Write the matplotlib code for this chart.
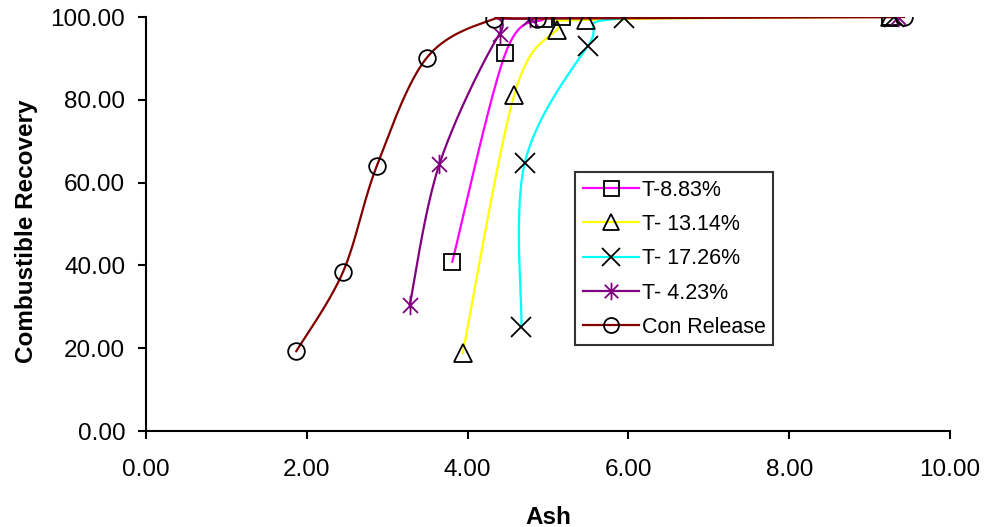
import numpy as np
import matplotlib
matplotlib.use("Agg")
import matplotlib.pyplot as plt
from matplotlib.lines import Line2D
from matplotlib.path import Path

plt.rcParams['font.family'] = ['Liberation Sans', 'DejaVu Sans']

# Ash (x) and combustible recovery (y) for each series
t883_ash = [3.81, 4.47, 4.95, 5.18, 9.25]
t883_rec = [40.9, 91.2, 99.5, 99.9, 100.0]

t1314_ash = [3.94, 4.58, 5.11, 5.47, 9.25]
t1314_rec = [18.8, 81.2, 96.9, 99.3, 100.0]

t1726_ash = [4.67, 4.71, 5.50, 5.94, 9.30]
t1726_rec = [25.2, 64.7, 93.1, 99.7, 100.0]

t423_ash = [3.28, 3.65, 4.40, 4.78, 9.35]
t423_rec = [30.4, 64.5, 96.0, 99.7, 100.0]

con_ash = [1.87, 2.45, 2.87, 3.49, 4.33, 4.86, 9.43]
con_rec = [19.3, 38.4, 64.0, 90.1, 99.5, 99.6, 100.0]

labels = ["T-8.83%", "T- 13.14%", "T- 17.26%", "T- 4.23%", "Con Release"]
xticks = [0, 2, 4, 6, 8, 10]
yticks = [0, 20, 40, 60, 80, 100]

# asterisk: X with a vertical bar
asterisk = Path([(-1, -1), (1, 1), (-1, 1), (1, -1), (0, -1.3), (0, 1.3)],
                [Path.MOVETO, Path.LINETO, Path.MOVETO, Path.LINETO,
                 Path.MOVETO, Path.LINETO])

styles = [
    dict(color="#FF00FF", marker="s", ms=12, mec="black"),
    dict(color="#FFFF00", marker="^", ms=13, mec="black"),
    dict(color="#00FFFF", marker="x", ms=14, mec="black"),
    dict(color="#800080", marker=asterisk, ms=14, mec="#800080"),
    dict(color="#800000", marker="o", ms=12, mec="black"),
]


def smooth(xs, ys, n=40):
    """Bezier smoothing through the points (cardinal spline, tension 1/6)."""
    p = np.column_stack([xs, ys]).astype(float)
    ext = np.vstack([p[0], p, p[-1]])
    out = []
    t = np.linspace(0, 1, n)[:, None]
    for i in range(len(p) - 1):
        p0, p1, p2, p3 = ext[i], ext[i + 1], ext[i + 2], ext[i + 3]
        c1 = p1 + (p2 - p0) / 6.0
        c2 = p2 - (p3 - p1) / 6.0
        seg = ((1 - t) ** 3) * p1 + 3 * ((1 - t) ** 2) * t * c1 \
            + 3 * (1 - t) * t ** 2 * c2 + t ** 3 * p2
        out.append(seg if i == 0 else seg[1:])
    s = np.vstack(out)
    return s[:, 0], s[:, 1]


fig = plt.figure(figsize=(9.85, 5.27), dpi=100)
ax = fig.add_axes([146 / 985, 1 - 431 / 527, 804 / 985, 414 / 527])

series = [(t883_ash, t883_rec), (t1314_ash, t1314_rec), (t1726_ash, t1726_rec),
          (t423_ash, t423_rec), (con_ash, con_rec)]

LW = 1.6
handles = []
for (xs, ys), st, lab in zip(series, styles, labels):
    sx, sy = smooth(xs, ys)
    ax.plot(sx, sy, color=st["color"], lw=LW, zorder=2)
    ax.plot(xs, ys, linestyle="none", marker=st["marker"], ms=st["ms"],
            mec=st["mec"], mfc="none", mew=1.3, zorder=3)
    handles.append(Line2D([], [], color=st["color"], lw=LW, marker=st["marker"],
                          ms=st["ms"] * 0.9, mec=st["mec"], mfc="none", mew=1.3,
                          label=lab))

ax.set_xlim(0, 10)
ax.set_ylim(0, 100)
ax.set_xticks(xticks)
ax.set_yticks(yticks)
ax.set_xticklabels([f"{v:.2f}" for v in xticks])
ax.set_yticklabels([f"{v:.2f}" for v in yticks])
for side in ("top", "right"):
    ax.spines[side].set_visible(False)
for side in ("left", "bottom"):
    ax.spines[side].set_linewidth(1.5)
ax.tick_params(direction="out", length=6, width=1.5, labelsize=17.5, color="black")
ax.tick_params(axis="y", pad=9)
ax.tick_params(axis="x", pad=14)

ax.set_xlabel("Ash", fontsize=17.5, fontweight="bold", labelpad=18)
ax.set_ylabel("Combustible Recovery", fontsize=17.5, fontweight="bold")
ax.yaxis.set_label_coords(-0.134, 0.483)

leg = fig.legend(handles=handles, loc="upper left",
                 bbox_to_anchor=(575 / 985, 1 - 172 / 527),
                 bbox_transform=fig.transFigure, fontsize=15.5,
                 frameon=True, fancybox=False, borderaxespad=0,
                 handlelength=2.6, handletextpad=0.15, borderpad=0.35,
                 labelspacing=0.62, numpoints=1)
leg.get_frame().set_edgecolor("black")
leg.get_frame().set_linewidth(1.5)

fig.savefig("out.png", dpi=100)
